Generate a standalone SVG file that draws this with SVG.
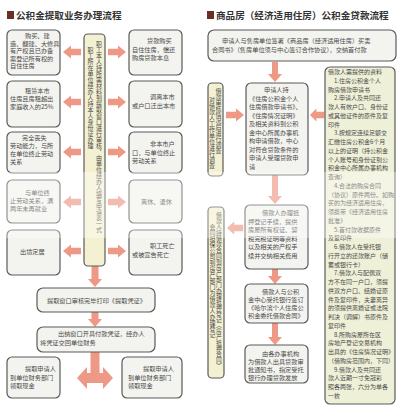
<svg xmlns="http://www.w3.org/2000/svg" xmlns:xlink="http://www.w3.org/1999/xlink" width="400" height="410" viewBox="0 0 400 410">
<style>
text{font-family:"Noto Sans CJK SC","Noto Sans",sans-serif;fill:#4a4a4a;font-size:6.2px}
.ttl{font-size:9.6px;font-weight:bold;fill:#333}
.box{fill:#f3f3ef;stroke:#5a5a5a;stroke-width:1.2}
.ybox{fill:#f4f1d2;stroke:#5a5a5a;stroke-width:1.2}
.gbox{fill:#eff0d8;stroke:#5a5a5a;stroke-width:1.2}
.arr{fill:#ee9886}
.vt{writing-mode:vertical-rl;font-size:6px}
.mk{fill:#6a3028}
</style>
<defs>
<path id="al" d="M0,0 L8,-6.5 L8,-3.2 L18,-3.2 L18,3.2 L8,3.2 L8,6.5 Z"/>
</defs>
<rect width="400" height="410" fill="#ffffff"/>

<!-- Left chart -->
<g id="title-left">
<rect class="mk" x="7" y="11" width="7" height="8"/>
<text class="ttl" x="16" y="19">公积金提取业务办理流程</text>
</g>

<g id="connectors-left" class="arr">
<use xlink:href="#al" transform="translate(63,52)"/>
<use xlink:href="#al" transform="translate(63,102)"/>
<use xlink:href="#al" transform="translate(63,152)"/>
<use xlink:href="#al" transform="translate(63,202)"/>
<use xlink:href="#al" transform="translate(63,251)"/>
<use xlink:href="#al" transform="translate(126,52) scale(-1,1)"/>
<use xlink:href="#al" transform="translate(126,102) scale(-1,1)"/>
<use xlink:href="#al" transform="translate(126,152) scale(-1,1)"/>
<use xlink:href="#al" transform="translate(126,202) scale(-1,1)"/>
<use xlink:href="#al" transform="translate(126,251) scale(-1,1)"/>
<path d="M91.5,266 H98.5 V279 H102 L95,287 L88,279 H91.5 Z"/>
<path d="M91.5,312 H98.5 V319 H102 L95,327 L88,319 H91.5 Z"/>
<path d="M90.5,352 H99.5 V373 H103 V367 L113,378 L103,389 V383 H87 V389 L77,378 L87,367 V373 H90.5 Z"/>
</g>

<g id="l-box1"><rect class="box" x="7" y="30" width="53" height="45" rx="5"/>
<text x="10" y="38"><tspan x="25">购买、建</tspan><tspan x="10" dy="7.6">造、翻建、大修具</tspan><tspan x="10" dy="7.6">有产权且已办备</tspan><tspan x="10" dy="7.6">案登记所有权的</tspan><tspan x="10" dy="7.6">自住住房</tspan></text></g>
<g id="l-box2"><rect class="box" x="7" y="81" width="53" height="46" rx="5"/>
<text x="10" y="93"><tspan x="25">租赁本市</tspan><tspan x="10" dy="8">住房且房租超出</tspan><tspan x="10" dy="8">家庭收入的25%</tspan></text></g>
<g id="l-box3"><rect class="box" x="7" y="132" width="53" height="41" rx="5"/>
<text x="10" y="140"><tspan x="22">完全丧失</tspan><tspan x="10" dy="8">劳动能力，与所</tspan><tspan x="10" dy="8">在单位终止劳动</tspan><tspan x="10" dy="8">关系</tspan></text></g>
<g id="l-box4"><rect class="box" x="7" y="180" width="53" height="43" rx="5"/>
<text x="10" y="195"><tspan x="25">与单位终</tspan><tspan x="10" dy="8">止劳动关系，满</tspan><tspan x="10" dy="8">两年未再就业</tspan></text></g>
<g id="l-box5"><rect class="box" x="7" y="230" width="53" height="45" rx="5"/>
<text x="20" y="254">出境定居</text></g>

<g id="r-box1"><rect class="box" x="129" y="30" width="53" height="45" rx="5"/>
<text x="132" y="43"><tspan x="147">贷款购买</tspan><tspan x="132" dy="8.5">自住住房，偿还</tspan><tspan x="132" dy="8.5">购房贷款本息</tspan></text></g>
<g id="r-box2"><rect class="box" x="129" y="81" width="53" height="46" rx="5"/>
<text x="132" y="99"><tspan x="150">调离本市</tspan><tspan x="132" dy="8.5">或户口迁出本市</tspan></text></g>
<g id="r-box3"><rect class="box" x="129" y="132" width="53" height="41" rx="5"/>
<text x="132" y="146"><tspan x="150">非本市户</tspan><tspan x="132" dy="8.5">口，与单位终止</tspan><tspan x="132" dy="8.5">劳动关系</tspan></text></g>
<g id="r-box4"><rect class="box" x="129" y="180" width="53" height="43" rx="5"/>
<text x="141" y="204">离休、退休</text></g>
<g id="r-box5"><rect class="box" x="129" y="230" width="53" height="45" rx="5"/>
<text x="132" y="248"><tspan x="150">职工死亡</tspan><tspan x="132" dy="8.5">或被宣告死亡</tspan></text></g>

<g id="l-mid"><rect class="ybox" x="84" y="34" width="21" height="232" rx="4"/>
<text class="vt" x="99" y="41">职工本人持所需材料到提取窗口进行审核，由单位经办人填写申请表一式</text>
<text class="vt" x="90.5" y="47">职工所在单位经办人持本人身份证办理</text></g>

<g id="l-print"><rect class="box" x="37" y="288" width="118" height="24" rx="6"/>
<text x="47" y="302.5">提取窗口审核完毕打印《提取凭证》</text></g>
<g id="l-cashier"><rect class="box" x="37" y="327" width="118" height="25" rx="6"/>
<text x="40" y="336"><tspan x="58">出纳窗口开具付款凭证，经办人</tspan><tspan x="40" dy="9">将凭证交回单位财务</tspan></text></g>

<g id="l-bot1"><rect class="box" x="7" y="357" width="53" height="41" rx="5"/>
<text x="10" y="371"><tspan x="25">提取申请人</tspan><tspan x="10" dy="8.5">到单位财务部门</tspan><tspan x="10" dy="8.5">领取现金</tspan></text></g>
<g id="l-bot2"><rect class="box" x="122" y="357" width="60" height="41" rx="5"/>
<text x="128" y="371"><tspan x="143">提取申请人</tspan><tspan x="128" dy="8.5">到单位财务部门</tspan><tspan x="128" dy="8.5">领取现金</tspan></text></g>

<!-- Right chart -->
<g id="title-right">
<rect class="mk" x="207" y="11" width="7" height="8"/>
<text class="ttl" x="216" y="19">商品房（经济适用住房）公积金贷款流程</text>
</g>

<g id="connectors-right" class="arr">
<path d="M272,62 H278 V74 H282 L275,82 L268,74 H272 Z"/>
<path d="M272,175 H278 V196 H282 L275,204 L268,196 H272 Z"/>
<path d="M272,269 H278 V276 H282 L275,284 L268,276 H272 Z"/>
<path d="M272,323 H278 V337 H282 L275,345 L268,337 H272 Z"/>
<use xlink:href="#al" transform="translate(310,115) scale(0.8,1)"/>
<use xlink:href="#al" transform="translate(244,115) scale(-1,1)"/>
<use xlink:href="#al" transform="translate(227,228) scale(0.9,1)"/>
</g>

<g id="rt-top"><rect class="box" x="208" y="30" width="188" height="31" rx="6"/>
<text x="212" y="43"><tspan x="222">申请人与售房单位签署《商品房（经济适用住房）买卖</tspan><tspan x="212" dy="9">合同书》（售房单位须与中心签订合作协议），交纳首付款</tspan></text></g>

<g id="rt-apply"><rect class="box" x="246" y="83" width="62" height="92" rx="5"/>
<text x="249" y="92"><tspan x="264">申请人持</tspan><tspan x="249" dy="8.5">《住房公积金个人</tspan><tspan x="249" dy="8.5">住房借款申请书》、</tspan><tspan x="249" dy="8.5">《住房情况证明》</tspan><tspan x="249" dy="8.5">及相关资料到公积</tspan><tspan x="249" dy="8.5">金中心所属办事机</tspan><tspan x="249" dy="8.5">构申请借款，中心</tspan><tspan x="249" dy="8.5">对符合贷款条件的</tspan><tspan x="249" dy="8.5">申请人受理贷款申</tspan><tspan x="249" dy="8.5">请</tspan></text></g>

<g id="rt-survey"><rect class="ybox" x="208" y="83" width="15" height="93" rx="4"/>
<text class="vt" x="218.5" y="88">借款审核情况后进行调查</text>
<text class="vt" x="212" y="97">对借款人工作单位进行调查</text></g>

<g id="rt-mortgage"><rect class="box" x="245" y="205" width="63" height="64" rx="5"/>
<text x="248" y="215"><tspan x="262">借款人办理抵</tspan><tspan x="248" dy="8.5">押登记手续，提供</tspan><tspan x="248" dy="8.5">房屋所有权证、契</tspan><tspan x="248" dy="8.5">税完税证明等资料</tspan><tspan x="248" dy="8.5">以及相关的产权手</tspan><tspan x="248" dy="8.5">续并交纳相关费用</tspan></text></g>

<g id="rt-register"><rect class="ybox" x="208" y="207" width="16" height="171" rx="4"/>
<text class="vt" x="219" y="212" style="font-size:5.8px">借款人持借款合同到房产部门办理抵押登记（房产抵押合同）</text>
<text class="vt" x="212.5" y="224">会同担保公司到房产部门为借款人办理登记</text></g>

<g id="rt-contract"><rect class="box" x="245" y="284" width="63" height="39" rx="5"/>
<text x="248" y="294"><tspan x="262">借款人与公积</tspan><tspan x="248" dy="8">金中心受托银行签订</tspan><tspan x="248" dy="8">《哈尔滨个人住房公</tspan><tspan x="248" dy="8">积金委托借款合同》</tspan></text></g>

<g id="rt-notice"><rect class="box" x="245" y="345" width="63" height="38" rx="5"/>
<text x="248" y="356"><tspan x="262">由各办事机构</tspan><tspan x="248" dy="8">为借款人出具贷款审</tspan><tspan x="248" dy="8">批通知书，指定受托</tspan><tspan x="248" dy="8">银行办理贷款发放</tspan></text></g>

<g id="rt-docs"><rect class="gbox" x="325" y="67" width="70" height="337" rx="5"/>
<text x="328" y="74" style="font-size:6px"><tspan x="328">借款人需提供的资料</tspan><tspan x="334" dy="8.75">1.住房公积金个人</tspan><tspan x="328" dy="8.75">购房借款申请书</tspan><tspan x="334" dy="8.75">2.申请人及共同还</tspan><tspan x="328" dy="8.75">款人有效户口、身份证</tspan><tspan x="328" dy="8.75">或其他证件的原件及复</tspan><tspan x="328" dy="8.75">印件</tspan><tspan x="334" dy="8.75">3.按规定连续足额交</tspan><tspan x="328" dy="8.75">汇缴住房公积金6个月</tspan><tspan x="328" dy="8.75">以上的证明（持公积金</tspan><tspan x="328" dy="8.75">个人账号和身份证到公</tspan><tspan x="328" dy="8.75">积金中心所属办事机构</tspan><tspan x="328" dy="8.75">查询）</tspan><tspan x="334" dy="8.75">4.合法的购房合同</tspan><tspan x="328" dy="8.75">（协议）原件两份。如购</tspan><tspan x="328" dy="8.75">买的为经济适用住房，</tspan><tspan x="328" dy="8.75">须携带《经济适用住房</tspan><tspan x="328" dy="8.75">批准》</tspan><tspan x="334" dy="8.75">5.首付款收据原件</tspan><tspan x="328" dy="8.75">及复印件</tspan><tspan x="334" dy="8.75">6.借款人在受托银</tspan><tspan x="328" dy="8.75">行开立的还款账户（储</tspan><tspan x="328" dy="8.75">蓄或银行卡）</tspan><tspan x="334" dy="8.75">7.借款人与配偶双</tspan><tspan x="328" dy="8.75">方不在同一户口，须提</tspan><tspan x="328" dy="8.75">供双方户口、结婚证原</tspan><tspan x="328" dy="8.75">件及复印件，夫妻离异</tspan><tspan x="328" dy="8.75">的须提供离婚证或法院</tspan><tspan x="328" dy="8.75">判决（调解）书原件及</tspan><tspan x="328" dy="8.75">复印件</tspan><tspan x="334" dy="8.75">8.所购房屋所在区</tspan><tspan x="328" dy="8.75">房地产登记交易机构</tspan><tspan x="328" dy="8.75">出具的《住房情况证明》</tspan><tspan x="328" dy="8.75">（借购房范围内，下同）</tspan><tspan x="334" dy="8.75">9.借款人及共同还</tspan><tspan x="328" dy="8.75">款人近期一寸免冠彩</tspan><tspan x="328" dy="8.75">照各两张，六分为单各</tspan><tspan x="328" dy="8.75">一枚</tspan></text></g>

<rect x="0" y="172" width="400" height="66" fill="#ffffff" opacity="0.35"/>
</svg>
